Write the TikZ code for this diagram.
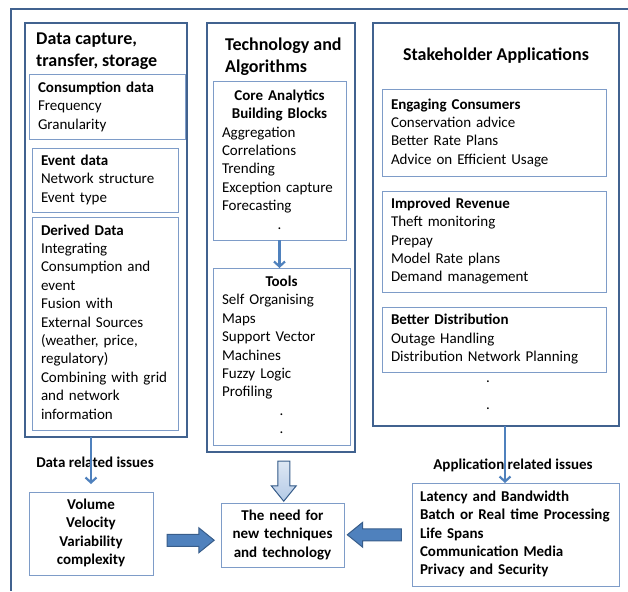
\documentclass[tikz,border=0pt]{standalone}
\usepackage{fontspec}
\setmainfont{Carlito}
\usetikzlibrary{positioning, calc, shapes.arrows, arrows.meta}

\definecolor{framecol}{HTML}{41628F}
\definecolor{linecol}{HTML}{7E9CC8}
\definecolor{arrowcol}{HTML}{4F81BD}
\definecolor{darkarrow}{HTML}{385D8A}
\definecolor{lightarrow}{HTML}{B4CAE6}
\newcommand{\bodyfont}{\fontsize{15}{18.4}\selectfont}
\newcommand{\titlefont}{\fontsize{18}{22}\selectfont\bfseries}
\newcommand{\midline}[1]{\hspace*{\fill}#1\hspace*{\fill}\mbox{}}

\tikzset{
	colbox/.style={draw=framecol, line width=1.6pt, outer sep=0pt, inner sep=0pt, anchor=north west},
	subbox/.style={draw=linecol, line width=1pt, outer sep=0pt, anchor=north west, align=left, inner xsep=9pt, inner ysep=2pt, font=\bodyfont, execute at begin node=\strut, execute at end node=\strut},
	issbox/.style={subbox, align=center, font=\bodyfont\bfseries},
	coltitle/.style={inner sep=0pt, align=left, font=\titlefont},
	issuelabel/.style={inner sep=1pt, font=\bodyfont\bfseries},
	thinarrow/.style={draw=arrowcol, line width=2.2pt, -{Straight Barb[length=5pt,width=11pt]}},
	fatarrow/.style={single arrow, draw=darkarrow, fill=arrowcol, line width=1pt, inner sep=5.5pt, minimum width=0pt, single arrow head extend=6.5pt, single arrow tip angle=78},
}

\begin{document}
\begin{tikzpicture}[x=1pt, y=-1pt]
	\useasboundingbox (0,0) rectangle (628,591);
	\draw[framecol, line width=1.5pt] (628,9) -- (11,9) -- (11,591);
	% the three columns
	\node[colbox, minimum width=162pt, minimum height=414pt] (datacol) at (25,23) {};
	\node[colbox, minimum width=148pt, minimum height=429pt] (techcol) at (207,23) {};
	\node[colbox, minimum width=246pt, minimum height=403pt] (appcol) at (373,23) {};
	\node[coltitle, below right=10pt and 11pt of datacol.north west] (datatitle) {Data capture,\\transfer, storage};
	\node[coltitle, below right=15pt and 18pt of techcol.north west] (techtitle) {Technology and\\Algorithms};
	\node[coltitle, below=25pt of appcol.north] (apptitle) {Stakeholder Applications};
	% data column
	\node[subbox, text width=138pt, minimum height=64pt] (consbox) at (29,75) {\textbf{Consumption data}\\Frequency\\Granularity};
	\node[subbox, text width=128pt, minimum height=64pt] (eventbox) at (32,148) {\textbf{Event data}\\Network structure\\Event type};
	\node[subbox, text width=128pt, minimum height=213pt] (derivbox) at (32,217) {\textbf{Derived Data}\\Integrating\\Consumption and\\event\\Fusion with\\External Sources\\(weather, price,\\regulatory)\\Combining with grid\\and network\\information};
	% technology column
	\node[subbox, text width=115pt, minimum height=158pt] (corebox) at (213,82) {\midline{\textbf{Core Analytics}}\\\midline{\textbf{Building Blocks}}\\Aggregation\\Correlations\\Trending\\Exception capture\\Forecasting\\\midline{.}};
	\node[subbox, text width=119pt, minimum height=177pt] (toolbox) at (213,268) {\midline{\textbf{Tools}}\\Self Organising\\Maps\\Support Vector\\Machines\\Fuzzy Logic\\Profiling\\\midline{.}\\\midline{.}};
	% application column
	\node[subbox, text width=206pt, minimum height=86pt] (engbox) at (382,90) {\textbf{Engaging Consumers}\\Conservation advice\\Better Rate Plans\\Advice on Efficient Usage};
	\node[subbox, text width=206pt, minimum height=101pt] (revbox) at (382,191) {\textbf{Improved Revenue}\\Theft monitoring\\Prepay\\Model Rate plans\\Demand management};
	\node[subbox, text width=206pt, minimum height=65pt] (distbox) at (382,307) {\textbf{Better Distribution}\\Outage Handling\\Distribution Network Planning};
	\node[inner sep=0pt, align=center, font=\bodyfont] (appdots) at (488,395) {.\\[8.6pt].};
	% issues
	\node[issuelabel] (datalabel) at (95,462) {Data related issues};
	\node[issbox, text width=106pt, minimum height=83pt] (volbox) at (29,492) {Volume\\Velocity\\Variability\\complexity};
	\node[issbox, text width=105pt, minimum height=64pt] (needbox) at (221,503) {The need for\\new techniques\\and technology};
	\node[issuelabel] (applabel) at (513,465) {Application related issues};
	\node[subbox, font=\bodyfont\bfseries, inner xsep=8pt, text width=191pt, minimum height=103pt] (latbox) at (412,483) {Latency and Bandwidth\\Batch or Real time Processing\\Life Spans\\Communication Media\\Privacy and Security};
	% connectors
	\draw[thinarrow, shorten >=8pt] (volbox.north |- datacol.south) -- (volbox.north);
	\draw[thinarrow] (corebox.south) -- (toolbox.north -| corebox.south);
	\draw[thinarrow] ([xshift=9pt]appcol.south) -- ([xshift=9pt]appcol.south |- latbox.north);
	\node[fatarrow, minimum height=47pt] (rarrow) at ($(volbox.east)!0.5!(needbox.west)+(0,6)$) {};
	\node[fatarrow, shape border rotate=270, top color=white!55!lightarrow, bottom color=lightarrow, minimum height=40pt] (darrow) at ($(techcol.south)!0.5!(needbox.north)+(2,0)$) {};
	\node[fatarrow, shape border rotate=180, minimum height=54pt] (larrow) at ($(latbox.west)!0.5!(needbox.east)$) {};
\end{tikzpicture}
\end{document}
